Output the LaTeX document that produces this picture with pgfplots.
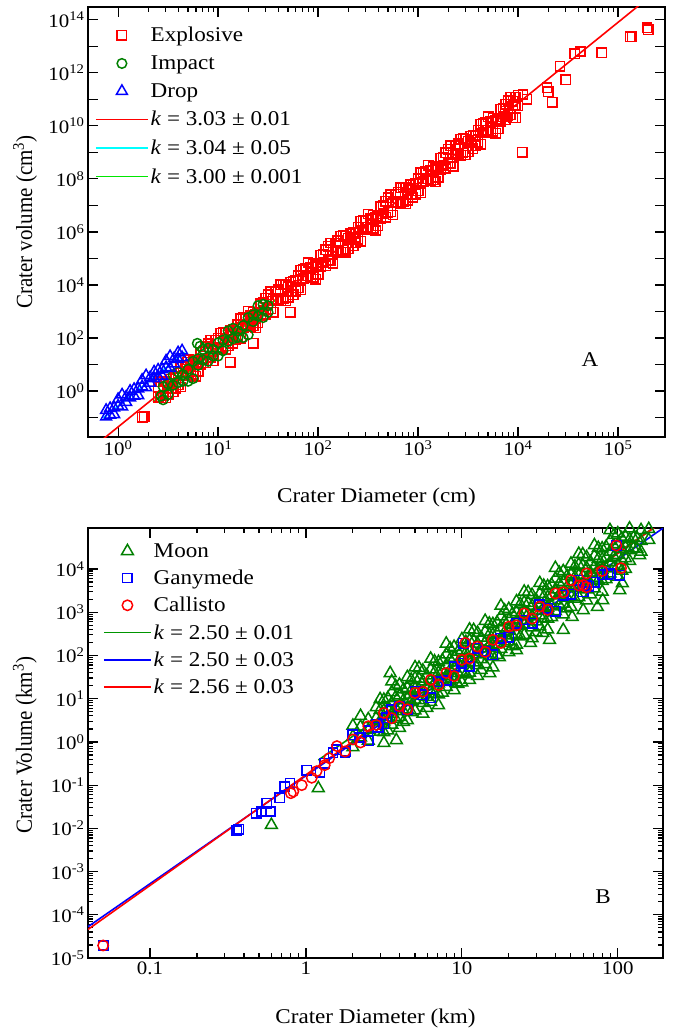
\documentclass[border=0pt]{standalone}
\usepackage{fontspec}
\setmainfont{Liberation Serif}[FakeStretch=1.1]
\newfontfamily\rotfont{Liberation Serif}
\usepackage{pgfplots}
\pgfplotsset{compat=1.18}
\newcommand\fs{\fontsize{21}{25}\selectfont}
\newcommand\fst{\fontsize{19}{22}\selectfont}
\newcommand\e[1]{10\textsuperscript{#1}}
\definecolor{mred}{RGB}{255,0,0}
\definecolor{mgreen}{RGB}{0,128,0}
\definecolor{mblue}{RGB}{0,0,255}
\definecolor{lcyan}{RGB}{0,255,255}
\definecolor{llime}{RGB}{0,230,0}
\definecolor{lgreen}{RGB}{0,150,0}
\begin{document}
\begin{tikzpicture}
\fill[white] (0,0) rectangle (673pt,-1030pt);
\useasboundingbox (0,0) rectangle (673pt,-1030pt);
% ---------------- Panel A ----------------
\begin{axis}[
  scale only axis, xmode=log, ymode=log,
  axis line style={line width=1.8pt},
  every tick/.style={black, line width=1.2pt},
  major tick length=10pt, minor tick length=5pt,
  tick label style={font=\fst}, label style={font=\fs},
  legend cell align=left,
  at={(88pt,-7pt)}, anchor=north west, width=577pt, height=430pt,
  xmin=0.5, xmax=2.95e5, ymin=0.0186, ymax=3e14,
  xtick={1,10,100,1000,10000,100000},
  xticklabels={\e{0},\e{1},\e{2},\e{3},\e{4},\e{5}},
  ytick={0.1,1,10,100,1e3,1e4,1e5,1e6,1e7,1e8,1e9,1e10,1e11,1e12,1e13,1e14},
  yticklabels={{},\e{0},{},\e{2},{},\e{4},{},\e{6},{},\e{8},{},\e{10},{},\e{12},{},\e{14}},
  yminorticks=false,
  xlabel={Crater Diameter (cm)},
  ylabel={\rotfont\scalebox{1}[1.1]{Crater volume (cm\textsuperscript{3})}},
  xlabel style={at={(axis description cs:0.5,-0.14)}, anchor=center},
  ylabel style={at={(axis description cs:-0.109,0.5)}, anchor=center},
  legend style={draw=none, fill=none, at={(axis description cs:0.012,0.958)}, anchor=north west,
    font=\fs, inner sep=0pt, row sep=8.5pt},
  legend image code/.code={\draw[mark repeat=2,mark phase=2,#1] plot coordinates {(0pt,0pt)(26pt,0pt)(52pt,0pt)};},
]
\addplot[only marks, mark=square, color=mred, mark size=4.7pt, mark options={solid, line width=1.5pt}] coordinates {
(2.51,1.48)(2.51,0.589)(2.82,0.66)(2.82,2.34)(3.16,1.88)(3.16,0.75)(3.55,0.95)(3.55,3.0)
(3.98,4.79)(3.98,1.70)(4.47,3.82)(4.47,8.56)(5.01,15.3)(5.01,4.84)(5.62,4.34)(5.62,13.7)
(6.31,12.3)(6.31,5.5)(7.08,31.1)(7.08,15.6)(7.94,17.6)(7.94,62.4)(8.91,14.0)(8.91,44.4)
(10,100)(10,39.8)(11.2,44.9)(11.2,159)(12.6,127)(12.6,50.7)(14.1,64.2)(14.1,203)
(15.8,324)(15.8,115)(17.8,259)(17.8,579)(20,1035)(20,327)(22.4,293)(22.4,928)
(25.1,832)(25.1,372)(28.2,2100)(28.2,1050)(31.6,1190)(31.6,4220)(35.5,950)(35.5,3000)
(39.8,6760)(39.8,2690)(44.7,3040)(44.7,10800)(50.1,8610)(50.1,3430)(56.2,4340)(56.2,13700)
(63.1,21900)(63.1,7760)(70.8,17500)(70.8,39100)(79.4,70000)(79.4,22100)(89.1,19800)(89.1,62700)
(100,56200)(100,25100)(112,1.42e5)(112,7.12e4)(126,8.04e4)(126,2.85e5)(141,6.42e4)(141,2.03e5)
(158,4.57e5)(158,1.82e5)(178,2.05e5)(178,7.29e5)(200,5.82e5)(200,2.32e5)(224,2.93e5)(224,9.28e5)
(251,1.48e6)(251,5.25e5)(282,1.18e6)(282,2.65e6)(316,4.73e6)(316,1.50e6)(355,1.34e6)(355,4.24e6)
(398,3.80e6)(398,1.70e6)(447,9.60e6)(447,4.81e6)(501,5.43e6)(501,1.93e7)(562,4.34e6)(562,1.37e7)
(631,3.09e7)(631,1.23e7)(708,1.39e7)(708,4.93e7)(794,3.94e7)(794,1.57e7)(891,1.98e7)(891,6.27e7)
(1000,1.0e8)(1000,3.55e7)(1122,7.99e7)(1122,1.79e8)(1259,3.20e8)(1259,1.01e8)(1413,9.07e7)(1413,2.87e8)
(1585,2.57e8)(1585,1.15e8)(1778,6.49e8)(1778,3.25e8)(1995,3.67e8)(1995,1.30e9)(2239,2.93e8)(2239,9.28e8)
(2512,2.09e9)(2512,8.32e8)(2818,9.39e8)(2818,3.33e9)(3162,2.66e9)(3162,1.06e9)(3548,1.34e9)(3548,4.24e9)
(3981,6.76e9)(3981,2.40e9)(4467,5.40e9)(4467,1.21e10)(5012,2.16e10)(5012,6.84e9)(5623,6.13e9)(5623,1.94e10)
(6310,1.74e10)(6310,7.76e9)(7079,4.39e10)(7079,2.20e10)(7943,2.48e10)(7943,8.81e10)(8913,1.98e10)(8913,6.27e10)
(10000,1.41e11)(10000,5.62e10)
};
\addlegendentry{Explosive}
\addplot[forget plot, only marks, mark=square, color=mred, mark size=4.7pt, mark options={solid, line width=1.5pt}] coordinates {
(2.66,0.557)(2.66,2.22)(2.99,2.23)(2.99,0.56)(3.35,2.0)(3.35,2.82)(3.76,1.27)(3.76,3.19)
(4.22,8.05)(4.22,1.43)(4.73,4.06)(4.73,9.09)(5.31,10.3)(5.31,4.08)(5.96,3.66)(5.96,11.6)
(6.68,29.2)(6.68,10.4)(7.50,11.7)(7.50,46.6)(8.41,83.4)(8.41,18.7)(9.44,42.0)(9.44,83.9)
(10.6,37.7)(10.6,150)(11.9,151)(11.9,37.9)(13.3,135)(13.3,191)(15.0,85.8)(15.0,216)
(16.8,545)(16.8,96.8)(18.8,274)(18.8,614)(21.1,693)(21.1,276)(23.7,247)(23.7,783)
(26.6,1980)(26.6,701)(29.9,792)(29.9,3150)(33.5,5640)(33.5,1260)(37.6,2840)(37.6,5670)
(42.2,2550)(42.2,10100)(47.3,10200)(47.3,2560)(53.1,9140)(53.1,12900)(59.6,5800)(59.6,14600)
(66.8,36800)(66.8,6550)(75.0,18600)(75.0,41500)(84.1,46900)(84.1,18700)(94.4,16700)(94.4,52900)
(106,1.34e5)(106,4.74e4)(119,5.35e4)(119,2.13e5)(133,3.81e5)(133,8.53e4)(150,1.92e5)(150,3.83e5)
(168,1.72e5)(168,6.85e5)(188,6.89e5)(188,1.73e5)(211,6.18e5)(211,8.73e5)(237,3.92e5)(237,9.85e5)
(266,2.49e6)(266,4.43e5)(299,1.25e6)(299,2.81e6)(335,3.17e6)(335,1.26e6)(376,1.13e6)(376,3.58e6)
(422,9.04e6)(422,3.21e6)(473,3.62e6)(473,1.44e7)(531,2.58e7)(531,5.77e6)(596,1.30e7)(596,2.59e7)
(668,1.16e7)(668,4.63e7)(750,4.66e7)(750,1.17e7)(841,4.18e7)(841,5.90e7)(944,2.65e7)(944,6.66e7)
(1059,1.68e8)(1059,2.99e7)(1189,8.48e7)(1189,1.90e8)(1334,2.14e8)(1334,8.53e7)(1496,7.65e7)(1496,2.42e8)
(1679,6.11e8)(1679,2.17e8)(1884,2.45e8)(1884,9.74e8)(2113,1.74e9)(2113,3.90e8)(2371,8.78e8)(2371,1.75e9)
(2661,7.87e8)(2661,3.13e9)(2985,3.15e9)(2985,7.91e8)(3350,2.82e9)(3350,3.99e9)(3758,1.79e9)(3758,4.50e9)
(4217,1.14e10)(4217,2.02e9)(4732,5.73e9)(4732,1.28e10)(5309,1.45e10)(5309,5.77e9)(5957,5.17e9)(5957,1.64e10)
(6683,4.13e10)(6683,1.47e10)(7499,1.65e10)(7499,6.58e10)(8414,1.18e11)(8414,2.64e10)(9441,5.94e10)(9441,1.18e11)
(1.74,0.105)(1.82,0.107)(52.5,933)(22.4,63)(13.2,12.3)(4.9,12.3)
(2.0e5,4.17e13)(1.95e5,5.0e13)(1.38e5,2.29e13)(1.32e5,2.29e13)(6.9e4,5.75e12)(3.7e4,5.25e12)
(4.17e4,6.3e12)(2.63e4,1.74e12)(3.0e4,5.5e11)(1.95e4,2.75e11)(2.0e4,1.95e11)(2.19e4,7.6e10)
(1.1e4,1.0e9)(1.12e4,1.51e11)(1.23e4,1.0e11)(8.9e3,8.3e10)(9.5e3,2.04e10)(7.4e3,3.55e10)
};
\addplot[only marks, mark=o, color=mgreen, mark size=4.8pt, mark options={solid, line width=1.5pt}] coordinates {
(2.82,1.48)(2.82,0.47)(3.16,0.74)(3.16,1.86)(3.55,4.17)(3.55,1.66)(3.98,2.09)(3.98,5.25)
(4.47,4.17)(4.47,2.34)(5.01,2.34)(5.01,6.61)(5.62,13.2)(5.62,2.95)(6.31,9.33)(6.31,16.6)
(7.08,37.2)(7.08,14.8)(7.94,13.2)(7.94,41.7)(8.91,37.2)(8.91,20.9)(10,66.1)(10,20.9)
(11.2,33.1)(11.2,83.2)(12.6,186)(12.6,74.1)(14.1,93.3)(14.1,234)(15.8,186)(15.8,105)
(17.8,105)(17.8,295)(20,589)(20,132)(22.4,417)(22.4,741)(25.1,1660)(25.1,661)
(28.2,589)(28.2,1860)(31.6,1660)(31.6,933)(6.2,63)(6.6,49)(2.69,0.65)
};
\addlegendentry{Impact}
\addplot[only marks, mark=triangle, color=mblue, mark size=6.3pt, mark options={solid, line width=1.5pt}] coordinates {
(0.759,0.19)(0.759,0.107)(0.832,0.126)(0.832,0.224)(0.912,0.234)(0.912,0.132)(1,0.49)(1,0.275)
(1.096,0.257)(1.096,0.724)(1.202,0.60)(1.202,0.38)(1.318,1.0)(1.318,0.56)(1.445,0.66)(1.445,1.17)
(1.585,1.23)(1.585,0.69)(1.738,2.6)(1.738,1.46)(1.905,1.37)(1.905,3.85)(2.089,3.21)(2.089,2.02)
(2.291,5.33)(2.291,3.0)(2.512,3.53)(2.512,6.28)(2.754,6.59)(2.754,3.71)(3.02,13.8)(3.02,7.76)
(3.311,7.24)(3.311,20.4)(3.631,17.0)(3.631,10.7)(3.981,28.2)(3.981,15.8)(4.365,18.6)(4.365,33.1)
};
\addlegendentry{Drop}
\addplot[color=mred, line width=1.6pt] coordinates {(0.7,0.015)(3e5,2.26e15)};
\addlegendentry{\textit{k} = 3.03 ± 0.01}
\addplot[color=lcyan, line width=1.6pt] coordinates {(0.71,0.097)(4.68,29)};
\addlegendentry{\textit{k} = 3.04 ± 0.05}
\addplot[color=llime, line width=1.6pt] coordinates {(2.24,0.39)(37.2,2630)};
\addlegendentry{\textit{k} = 3.00 ± 0.001}
\node[font=\fs] at (axis description cs:0.87,0.179) {A};
\end{axis}
% ---------------- Panel B ----------------
\begin{axis}[
  scale only axis, xmode=log, ymode=log,
  axis line style={line width=1.8pt},
  every tick/.style={black, line width=1.2pt},
  major tick length=10pt, minor tick length=5pt,
  tick label style={font=\fst}, label style={font=\fs},
  legend cell align=left,
  at={(88pt,-528pt)}, anchor=north west, width=575pt, height=430pt,
  xmin=0.04, xmax=195, ymin=1e-5, ymax=8.9e4,
  xtick={0.1,1,10,100}, xticklabels={0.1,1,10,100},
  ytick={1e-5,1e-4,1e-3,1e-2,1e-1,1,10,100,1e3,1e4},
  yticklabels={\e{-5},\e{-4},\e{-3},\e{-2},\e{-1},\e{0},\e{1},\e{2},\e{3},\e{4}},
  xlabel={Crater Diameter (km)},
  ylabel={\rotfont\scalebox{1}[1.1]{Crater Volume (km\textsuperscript{3})}},
  xlabel style={at={(axis description cs:0.5,-0.14)}, anchor=center},
  ylabel style={at={(axis description cs:-0.11,0.495)}, anchor=center},
  legend style={draw=none, fill=none, at={(axis description cs:0.026,0.969)}, anchor=north west,
    font=\fs, inner sep=0pt, row sep=7.2pt},
  legend image code/.code={\draw[mark repeat=2,mark phase=2,#1] plot coordinates {(0pt,0pt)(23.5pt,0pt)(47pt,0pt)};},
]
\addplot[only marks, mark=triangle, color=mgreen, mark size=6.8pt, mark options={solid, line width=1.5pt}] coordinates {
(2.00,0.75)(2.00,1.33)(2.00,2.37)(2.24,1.26)(2.24,2.24)(2.24,3.98)(2.51,1.06)(2.51,1.88)(2.51,3.35)
(2.82,2.0)(2.82,3.55)(2.82,6.31)
(3.16,0.944)(3.16,1.68)(3.16,2.99)(3.16,5.31)(3.16,9.44)
(3.55,2.51)(3.55,4.47)(3.55,7.94)(3.55,14.1)(3.55,25.1)
(3.98,2.11)(3.98,3.76)(3.98,6.68)(3.98,11.9)(3.98,21.1)
(4.47,3.16)(4.47,5.62)(4.47,10)(4.47,17.8)(4.47,31.6)
(5.01,5.31)(5.01,9.44)(5.01,16.8)(5.01,29.9)(5.01,53.1)
(5.62,4.47)(5.62,7.94)(5.62,14.1)(5.62,25.1)(5.62,44.7)
(6.31,8.41)(6.31,15.0)(6.31,26.6)(6.31,47.3)(6.31,84.1)
(7.08,7.08)(7.08,12.6)(7.08,22.4)(7.08,39.8)(7.08,70.8)
(7.94,18.8)(7.94,33.5)(7.94,59.6)(7.94,106)(7.94,188)
(8.91,15.8)(8.91,28.2)(8.91,50.1)(8.91,89.1)(8.91,158)
(10,23.7)(10,42.2)(10,75)(10,133)(10,237)
(11.2,39.8)(11.2,70.8)(11.2,126)(11.2,224)(11.2,398)
(12.6,33.5)(12.6,59.6)(12.6,106)(12.6,188)(12.6,335)
(14.1,63.1)(14.1,112)(14.1,200)(14.1,355)(14.1,631)
(15.8,53.1)(15.8,94.4)(15.8,168)(15.8,299)(15.8,531)
(17.8,141)(17.8,251)(17.8,447)(17.8,794)(17.8,1410)
(20,119)(20,211)(20,376)(20,668)(20,1190)
(22.4,178)(22.4,316)(22.4,562)(22.4,1000)(22.4,1780)
(25.1,299)(25.1,531)(25.1,944)(25.1,1680)(25.1,2990)
(28.2,251)(28.2,447)(28.2,794)(28.2,1410)(28.2,2510)
(31.6,473)(31.6,841)(31.6,1500)(31.6,2660)(31.6,4730)
(35.5,398)(35.5,708)(35.5,1260)(35.5,2240)(35.5,3980)
(39.8,1060)(39.8,1880)(39.8,3350)(39.8,5960)(39.8,10600)
(44.7,891)(44.7,1580)(44.7,2820)(44.7,5010)(44.7,8910)
(50.1,1330)(50.1,2370)(50.1,4220)(50.1,7500)(50.1,13300)
(56.2,2240)(56.2,3980)(56.2,7080)(56.2,12600)(56.2,22400)
(63.1,1880)(63.1,3350)(63.1,5960)(63.1,10600)(63.1,18800)
(70.8,3550)(70.8,6310)(70.8,11200)(70.8,20000)(70.8,35500)
(79.4,2990)(79.4,5310)(79.4,9440)(79.4,16800)(79.4,29900)
(89.1,7940)(89.1,14100)(89.1,25100)(89.1,44700)(89.1,79400)
(100,6680)(100,11900)(100,21100)(100,37600)(100,66800)
(112,10000)(112,17800)(112,31600)(112,56200)
(126,29900)(126,53100)(126,94400)(141,25100)(141,44700)(141,79400)(158,47300)(158,84100)
(2.99,1.73)(2.99,3.07)(2.99,5.46)(2.99,9.72)(3.35,1.83)(3.35,3.25)(3.35,5.79)(3.35,10.3)
(3.76,3.45)(3.76,6.13)(3.76,10.9)(3.76,19.4)(4.22,2.90)(4.22,5.16)(4.22,9.17)(4.22,16.3)
(4.73,4.87)(4.73,8.66)(4.73,15.4)(4.73,27.4)(5.31,9.17)(5.31,16.3)(5.31,29.0)(5.31,51.6)
(5.96,6.13)(5.96,10.9)(5.96,19.4)(5.96,34.5)(6.68,13.0)(6.68,23.0)(6.68,41.0)(6.68,72.9)
(7.50,13.7)(7.50,24.4)(7.50,43.4)(7.50,77.2)(8.41,25.9)(8.41,46.0)(8.41,81.8)(8.41,145)
(9.44,21.8)(9.44,38.7)(9.44,68.8)(9.44,122)(10.6,36.5)(10.6,64.9)(10.6,115)(10.6,205)
(11.9,68.8)(11.9,122)(11.9,218)(11.9,387)(13.3,46.0)(13.3,81.8)(13.3,145)(13.3,259)
(15.0,97.2)(15.0,173)(15.0,307)(15.0,546)(16.8,103)(16.8,183)(16.8,325)(16.8,579)
(18.8,194)(18.8,345)(18.8,613)(18.8,1090)(21.1,163)(21.1,290)(21.1,516)(21.1,917)
(23.7,274)(23.7,487)(23.7,866)(23.7,1540)(26.6,516)(26.6,917)(26.6,1630)(26.6,2900)
(29.9,345)(29.9,613)(29.9,1090)(29.9,1940)(33.5,729)(33.5,1300)(33.5,2300)(33.5,4100)
(37.6,772)(37.6,1370)(37.6,2440)(37.6,4340)(42.2,1450)(42.2,2590)(42.2,4600)(42.2,8180)
(47.3,1220)(47.3,2180)(47.3,3870)(47.3,6880)(53.1,2050)(53.1,3650)(53.1,6490)(53.1,11500)
(59.6,3870)(59.6,6880)(59.6,12200)(59.6,21800)(66.8,2590)(66.8,4600)(66.8,8180)(66.8,14500)
(75.0,5460)(75.0,9720)(75.0,17300)(75.0,30700)(84.1,5790)(84.1,10300)(84.1,18300)(84.1,32500)
(94.4,10900)(94.4,19400)(94.4,34500)(94.4,61300)(106,9170)(106,16300)(106,29000)(106,51600)
(119,15400)(119,27400)(119,48700)(119,86600)(133,29000)(133,51600)
(33,331)(27.5,195)(22.4,132)(17.4,91)(15.1,39)(11.2,27)(9.3,23)(3.8,1.1)(3.47,39)
(80,1900)(138,21000)(44.7,389)(36.5,229)(60,1120)(51,776)(74,1320)(107,4680)(103,3240)
(1.2,0.085)(0.6,0.012)
};
\addlegendentry{Moon}
\addplot[only marks, mark=square, color=mblue, mark size=4.7pt, mark options={solid, line width=1.5pt}] coordinates {
(1.58,0.66)(1.78,0.556)(2.0,1.48)(2.24,1.24)(2.51,1.05)(2.82,2.48)(3.16,2.63)(3.55,5.56)
(3.98,6.61)(4.47,5.56)(5.01,14.8)(5.62,12.4)(6.31,10.5)(7.08,24.8)(7.94,26.3)(8.91,55.6)
(10,66.1)(11.2,55.6)(12.6,148)(14.1,124)(15.8,105)(17.8,248)(20,263)(22.4,556)
(25.1,661)(28.2,556)(31.6,1480)(35.5,1240)(39.8,1050)(44.7,2480)(50.1,2630)(56.2,5560)
(63.1,4170)(70.8,4950)(79.4,7410)(89.1,7850)
(98,35000)(103,7200)(86,7400)(65,4000)(60,3000)(1.01,0.22)(1.23,0.20)(1.32,0.32)(1.49,0.56)
(0.79,0.11)(0.73,0.093)(0.68,0.051)(0.52,0.0245)(0.59,0.0245)(0.56,0.038)(0.48,0.0224)
(0.36,0.0089)(0.37,0.0095)(0.05,1.95e-5)(10.2,190)(2.2,1.3)(2.5,1.8)(2.9,2.2)(3.3,3.6)(1.8,0.6)
};
\addlegendentry{Ganymede}
\addplot[only marks, mark=o, color=mred, mark size=5.2pt, mark options={solid, line width=1.5pt}] coordinates {
(1.41,0.42)(1.58,0.80)(1.78,0.60)(2.0,1.14)(2.24,0.97)(2.51,2.31)(2.82,2.47)(3.16,4.68)
(3.55,3.53)(3.98,6.70)(4.47,5.68)(5.01,13.6)(5.62,14.5)(6.31,27.4)(7.08,20.7)(7.94,39.3)
(8.91,33.3)(10,79.4)(11.2,84.7)(12.6,161)(14.1,121)(15.8,230)(17.8,195)(20,466)
(22.4,497)(25.1,942)(28.2,711)(31.6,1350)(35.5,1140)(39.8,2730)(44.7,2910)(50.1,5520)
(56.2,4170)(63.1,7910)(79.4,8990)
(0.05,1.95e-5)(0.83,0.071)(0.94,0.10)(1.09,0.148)(1.17,0.21)(1.32,0.29)(0.80,0.065)
(10.5,195)(98,35000)(105,10500)(63,3800)(60,4260)
};
\addlegendentry{Callisto}
\addplot[color=lgreen, line width=1.6pt] coordinates {(1.2,0.38)(200,1.36e5)};
\addlegendentry{\textit{k} = 2.50 ± 0.01}
\addplot[color=mblue, line width=1.6pt] coordinates {(0.04,5.3e-5)(200,9.39e4)};
\addlegendentry{\textit{k} = 2.50 ± 0.03}
\addplot[color=mred, line width=1.6pt] coordinates {(0.04,4.58e-5)(200,1.35e5)};
\addlegendentry{\textit{k} = 2.56 ± 0.03}
\node[font=\fs] at (axis description cs:0.896,0.142) {B};
\end{axis}
\end{tikzpicture}
\end{document}
